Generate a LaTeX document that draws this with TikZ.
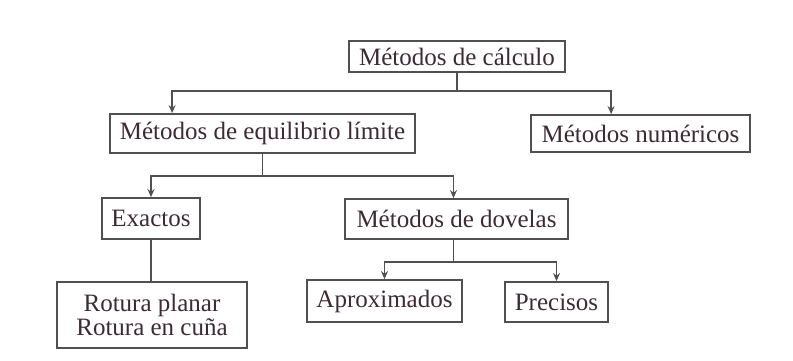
\documentclass[tikz,border=0pt]{standalone}
\usepackage{fontspec}
\setmainfont{Liberation Serif}
\usetikzlibrary{arrows.meta}
\definecolor{texto}{RGB}{62,42,52}
\definecolor{linea}{RGB}{80,80,80}
\begin{document}
\begin{tikzpicture}[x=1pt,y=-1pt,
    caja/.style={draw=linea,line width=1.8pt,inner sep=0pt,text=texto,
        font=\fontsize{25}{28}\selectfont,align=center},
    flecha/.style={draw=linea,line width=1.8pt,-{Stealth[length=8pt,width=7pt]}},
    linea/.style={draw=linea,line width=1.8pt}]
                \useasboundingbox (0,0) rectangle (793,360);

                \node[caja,minimum width=216,minimum height=31] (calc) at (457,56.5) {Métodos de cálculo};
                \node[caja,minimum width=305,minimum height=39] (equil) at (262.5,133.5) {Métodos de equilibrio límite};
                \node[caja,minimum width=219,minimum height=37] (numer) at (640.5,133.5) {Métodos numéricos};
                \node[caja,minimum width=98,minimum height=41] (exact) at (151,218.5) {Exactos};
                \node[caja,minimum width=223,minimum height=40] (dovel) at (456.5,219) {Métodos de dovelas};
                \node[caja,minimum width=190,minimum height=66] (rotura) at (152,315) {Rotura planar\\[-4pt]Rotura en cuña};
                \node[caja,minimum width=155,minimum height=42] (aprox) at (384.5,301) {Aproximados};
                \node[caja,minimum width=103,minimum height=40] (prec) at (556.5,302) {Precisos};

                \draw[linea] (calc.south) -- ++(0,18) coordinate (j1);
                \draw[flecha] (j1) -| ([xshift=63]equil.north west);
                \draw[flecha] (j1) -| ([xshift=81]numer.north west);

                \draw[linea] (equil.south) -- ++(0,22) coordinate (j2);
                \draw[flecha] (j2) -| (exact.north);
                \draw[flecha] (j2) -| ([xshift=-3]dovel.north);

                \draw[linea] (exact.south) -- (exact.south |- rotura.north);

                \draw[linea] ([xshift=-3]dovel.south) -- ++(0,22) coordinate (j3);
                \draw[flecha] (j3) -| (aprox.north);
                \draw[flecha] (j3) -| (prec.north);
            \end{tikzpicture}
\end{document}
